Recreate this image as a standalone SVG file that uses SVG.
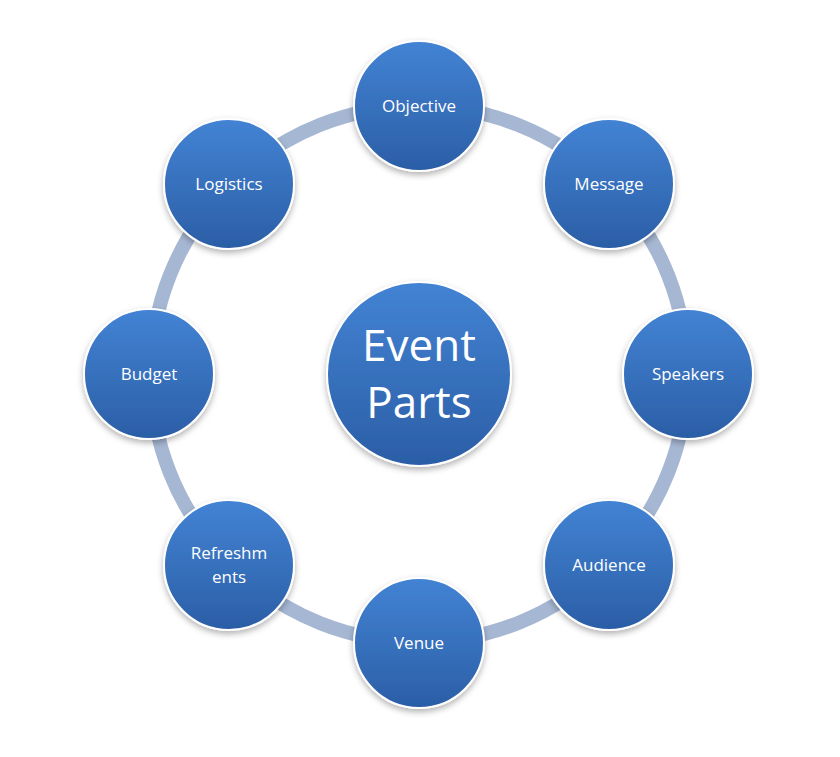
<svg xmlns="http://www.w3.org/2000/svg" width="840" height="757" viewBox="0 0 840 757">
<defs>
<linearGradient id="g" x1="0" y1="0" x2="0" y2="1"><stop offset="0" stop-color="#4383d4"/><stop offset="1" stop-color="#2b5ea6"/></linearGradient>
<filter id="sh" x="-20%" y="-20%" width="140%" height="150%"><feDropShadow dx="0" dy="3" stdDeviation="3" flood-color="#000" flood-opacity="0.3"/></filter>
</defs>
<style>
.n{fill:url(#g);stroke:#fff;stroke-width:2;filter:url(#sh)}
.t{font-family:"Open Sans","Liberation Sans",sans-serif;font-size:17px;fill:#fff;text-anchor:middle}
.c{font-family:"Open Sans","Liberation Sans",sans-serif;font-size:44px;fill:#fff;text-anchor:middle}
</style>
<rect width="840" height="757" fill="#fff"/>
<g id="connectors"><circle cx="419" cy="374" r="268" fill="none" stroke="#a6b7d3" stroke-width="14"/></g>
<g id="center"><circle class="n" cx="419" cy="374" r="92"/><text class="c" x="419" y="361">Event</text><text class="c" x="419" y="418">Parts</text></g>
<g id="objective"><circle class="n" cx="419" cy="106" r="65"/><text class="t" x="419" y="112">Objective</text></g>
<g id="message"><circle class="n" cx="609" cy="184" r="65"/><text class="t" x="609" y="190">Message</text></g>
<g id="speakers"><circle class="n" cx="688" cy="374" r="65"/><text class="t" x="688" y="380">Speakers</text></g>
<g id="audience"><circle class="n" cx="609" cy="565" r="65"/><text class="t" x="609" y="571">Audience</text></g>
<g id="venue"><circle class="n" cx="419" cy="643" r="65"/><text class="t" x="419" y="649">Venue</text></g>
<g id="refreshments"><circle class="n" cx="229" cy="565" r="65"/><text class="t" x="229" y="559">Refreshm</text><text class="t" x="229" y="583">ents</text></g>
<g id="budget"><circle class="n" cx="149" cy="374" r="65"/><text class="t" x="149" y="380">Budget</text></g>
<g id="logistics"><circle class="n" cx="229" cy="184" r="65"/><text class="t" x="229" y="190">Logistics</text></g>
</svg>
